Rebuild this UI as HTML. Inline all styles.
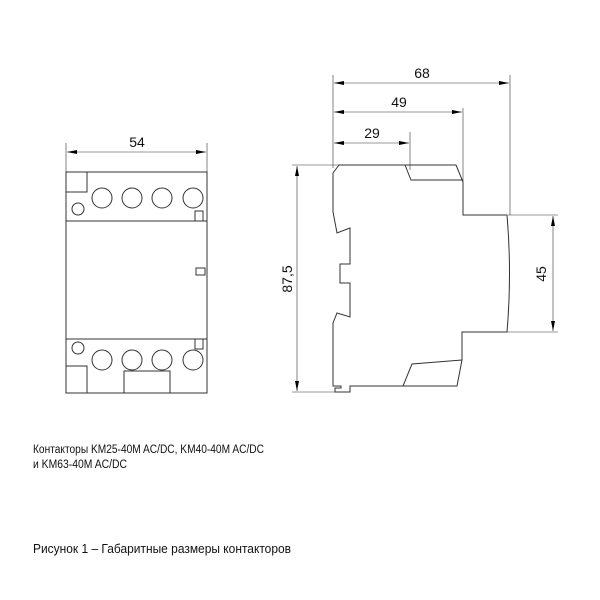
<!DOCTYPE html>
<html><head><meta charset="utf-8"><style>body{margin:0;background:#fff}svg{display:block}</style></head>
<body>
<svg width="600" height="600" viewBox="0 0 600 600" xmlns="http://www.w3.org/2000/svg" font-family="Liberation Sans, sans-serif">
<defs>
<marker id="a" viewBox="0 0 10 4" refX="10" refY="2" markerWidth="10" markerHeight="4" orient="auto-start-reverse" markerUnits="userSpaceOnUse"><path d="M0,0L10,2L0,4z" fill="#000"/></marker>
</defs>
<g stroke="#333" stroke-width="1" fill="none">
<!-- front view -->
<line x1="66" y1="143" x2="66" y2="172" stroke-width="0.6"/>
<line x1="207" y1="143" x2="207" y2="172" stroke-width="0.6"/>
<line x1="67" y1="152" x2="206" y2="152" stroke-width="0.6" marker-start="url(#a)" marker-end="url(#a)"/>
<rect x="66" y="172" width="141" height="221"/>
<line x1="66" y1="221" x2="207" y2="221"/>
<line x1="66" y1="339" x2="207" y2="339"/>
<path d="M66,192H87V172"/>
<circle cx="102" cy="198" r="10"/><circle cx="132" cy="198" r="10"/><circle cx="162" cy="198" r="10"/><circle cx="193" cy="198" r="10"/>
<circle cx="78" cy="209" r="6"/>
<rect x="195" y="211" width="8" height="10"/>
<rect x="196" y="268" width="9" height="7"/>
<circle cx="78" cy="348" r="6"/>
<rect x="195" y="339" width="8" height="10"/>
<circle cx="102" cy="360" r="10"/><circle cx="132" cy="360" r="10"/><circle cx="162" cy="360" r="10"/><circle cx="193" cy="360" r="10"/>
<path d="M66,366H87V393"/>
<path d="M124,393V371H170V393"/>
<!-- side view dims -->
<line x1="333" y1="75" x2="333" y2="168" stroke-width="0.6"/>
<line x1="510" y1="75" x2="510" y2="215" stroke-width="0.6"/>
<line x1="463" y1="108" x2="463" y2="182" stroke-width="0.6"/>
<line x1="410" y1="132" x2="410" y2="170" stroke-width="0.6"/>
<line x1="334" y1="83" x2="509" y2="83" stroke-width="0.6" marker-start="url(#a)" marker-end="url(#a)"/>
<line x1="334" y1="112" x2="462" y2="112" stroke-width="0.6" marker-start="url(#a)" marker-end="url(#a)"/>
<line x1="334" y1="143" x2="409" y2="143" stroke-width="0.6" marker-start="url(#a)" marker-end="url(#a)"/>
<line x1="292" y1="165" x2="339" y2="165" stroke-width="0.6"/>
<line x1="292" y1="392" x2="335" y2="392" stroke-width="0.6"/>
<line x1="297" y1="166" x2="297" y2="391" stroke-width="0.6" marker-start="url(#a)" marker-end="url(#a)"/>
<line x1="508" y1="215" x2="558" y2="215" stroke-width="0.6"/>
<line x1="506" y1="332" x2="558" y2="332" stroke-width="0.6"/>
<line x1="553" y1="216" x2="553" y2="331" stroke-width="0.6" marker-start="url(#a)" marker-end="url(#a)"/>
<!-- side body -->
<path d="M339,165H456L463,182V215H507Q512,273 507,332H462V360L457,386H350V392H335V388H341V386L333,386V323L337,313L350,317V283H340V264H350V228L337,233L333,212V173Z"/>
<path d="M405,165L411,180H463"/>
<path d="M403,386L412,364L462,360"/>
</g>
<g fill="#111" font-size="14">
<text x="137" y="147" text-anchor="middle">54</text>
<text x="422" y="78" text-anchor="middle">68</text>
<text x="399" y="107" text-anchor="middle">49</text>
<text x="372" y="138" text-anchor="middle">29</text>
<text transform="translate(292,279) rotate(-90)" text-anchor="middle">87,5</text>
<text transform="translate(546,274) rotate(-90)" text-anchor="middle">45</text>
</g>
<g fill="#111" font-size="11.5">
<text x="33" y="453" textLength="231" lengthAdjust="spacingAndGlyphs">Контакторы KM25-40M AC/DC, KM40-40M AC/DC</text>
<text x="33" y="468" textLength="94" lengthAdjust="spacingAndGlyphs">и KM63-40M AC/DC</text>
<text x="33" y="553" font-size="12.5" textLength="258" lengthAdjust="spacingAndGlyphs">Рисунок 1 – Габаритные размеры контакторов</text>
</g>
</svg>
</body></html>
